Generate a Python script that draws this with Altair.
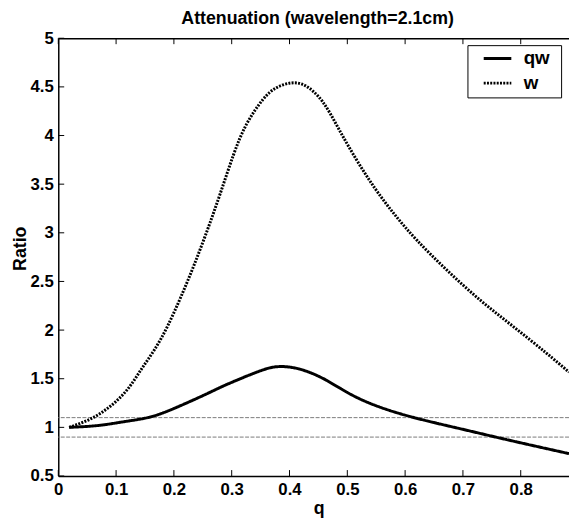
import altair as alt
import pandas as pd

# ---- data ----
q_w = [0.0188, 0.0585, 0.0926, 0.121, 0.144, 0.1666, 0.189, 0.212, 0.235, 0.258,
       0.28, 0.303, 0.326, 0.354, 0.377, 0.4025, 0.428, 0.457, 0.485,
       0.515, 0.5475, 0.5816, 0.621, 0.6725, 0.7295, 0.7863, 0.843, 0.8835]
v_w = [1.0, 1.095, 1.23, 1.40, 1.60, 1.80, 2.04, 2.34, 2.67, 3.03,
       3.40, 3.80, 4.12, 4.37, 4.49, 4.54, 4.51, 4.35, 4.07,
       3.76, 3.46, 3.19, 2.92, 2.615, 2.31, 2.04, 1.77, 1.568]

q_qw = [0.0188, 0.07, 0.1155, 0.161, 0.2064, 0.246, 0.2746, 0.297, 0.349, 0.3826,
        0.4167, 0.462, 0.519, 0.5987, 0.6896, 0.775, 0.8835]
v_qw = [1.0, 1.02, 1.06, 1.11, 1.21, 1.315, 1.395, 1.455, 1.58, 1.625,
        1.60, 1.49, 1.30, 1.128, 0.994, 0.875, 0.73]

series_names = ["qw", "w"]
ref_levels = [0.9, 1.1]
x_ticks = [0, 0.1, 0.2, 0.3, 0.4, 0.5, 0.6, 0.7, 0.8]
y_ticks = [0.5, 1, 1.5, 2, 2.5, 3, 3.5, 4, 4.5, 5]
x_domain = [0, 0.8835]
y_domain = [0.5, 5]

curves = pd.DataFrame(
    {"q": q_qw + q_w,
     "v": v_qw + v_w,
     "series": ["qw"] * len(q_qw) + ["w"] * len(q_w)}
)
refs = pd.DataFrame({"v": ref_levels})
xt = pd.DataFrame({"q": x_ticks})
yt = pd.DataFrame({"v": y_ticks})

W, H = 518, 444
FONT = "Liberation Sans"

xscale = alt.Scale(domain=x_domain, nice=False, zero=False)
yscale = alt.Scale(domain=y_domain, nice=False, zero=False)

yaxis = alt.Axis(values=y_ticks, format="~g", title="Ratio", ticks=False, tickSize=0,
                 labelPadding=5, labelFlush=False, labelOverlap=False,
                 titleX=-33, titleY=213, titleBaseline="alphabetic",
                 titleAlign="center", titleAngle=270)

lines = alt.Chart(curves).mark_line(color="black", strokeWidth=3,
                                    interpolate="natural").encode(
    x=alt.X("q:Q", scale=xscale,
            axis=alt.Axis(orient="bottom", values=x_ticks, format="~g", title="q",
                          ticks=False, tickSize=0, labelPadding=6,
                          labelFlush=False, labelOverlap=False,
                          titleX=264, titleY=38.5, titleBaseline="alphabetic",
                          titleAlign="center")),
    y=alt.Y("v:Q", scale=yscale, axis=yaxis),
    strokeDash=alt.StrokeDash(
        "series:N",
        scale=alt.Scale(domain=series_names, range=[[1, 0], [2, 1.3]]),
        legend=alt.Legend(title="\u00a0", titleOrient="right", titlePadding=8,
                          titleFontSize=2,
                          orient="none", legendX=415, legendY=7,
                          strokeColor="black", fillColor="white", padding=4,
                          symbolType="M-1,0H3", symbolSize=196,
                          symbolStrokeWidth=3, symbolStrokeColor="black",
                          symbolFillColor="transparent", symbolOffset=10,
                          labelOffset=24, rowPadding=5,
                          labelFont=FONT, labelFontWeight="bold",
                          labelFontSize=19, labelColor="black")),
)

hlines = alt.Chart(refs).mark_rule(color="#7a7a7a", strokeWidth=1,
                                   strokeDash=[4, 1.5]).encode(
    y=alt.Y("v:Q", scale=yscale, axis=yaxis)
)

top_ticks = alt.Chart(xt).mark_rule(color="black", strokeWidth=1).encode(
    x=alt.X("q:Q", scale=xscale,
            axis=alt.Axis(orient="top", labels=False, ticks=False, tickSize=0,
                          title=None, domain=True)),
    y=alt.value(0), y2=alt.value(6),
)
bottom_ticks = alt.Chart(xt).mark_rule(color="black", strokeWidth=1).encode(
    x=alt.X("q:Q", scale=xscale, axis=None),
    y=alt.value(H), y2=alt.value(H - 6),
)
left_ticks = alt.Chart(yt).mark_rule(color="black", strokeWidth=1).encode(
    y=alt.Y("v:Q", scale=yscale, axis=yaxis),
    x=alt.value(0), x2=alt.value(6),
)

chart = alt.layer(hlines, lines, top_ticks, bottom_ticks, left_ticks).resolve_axis(
    x="independent"
).properties(
    width=W, height=H,
    title=alt.TitleParams("Attenuation (wavelength=2.1cm)", anchor="middle",
                          font=FONT, fontSize=18, fontWeight="bold",
                          color="black", offset=0, baseline="alphabetic",
                          dx=4, dy=13),
    autosize=alt.AutoSizeParams(type="none"),
    padding={"left": 51, "top": 27, "right": 0, "bottom": 45},
).configure_view(stroke=None).configure_axis(
    domainColor="black", domainWidth=1.5,
    labelFont=FONT, labelFontWeight="bold", labelFontSize=17, labelColor="black",
    titleFont=FONT, titleFontWeight="bold", titleFontSize=18, titleColor="black",
    grid=False,
)

chart.save("out.html", embed_options={"renderer": "svg", "actions": False})
